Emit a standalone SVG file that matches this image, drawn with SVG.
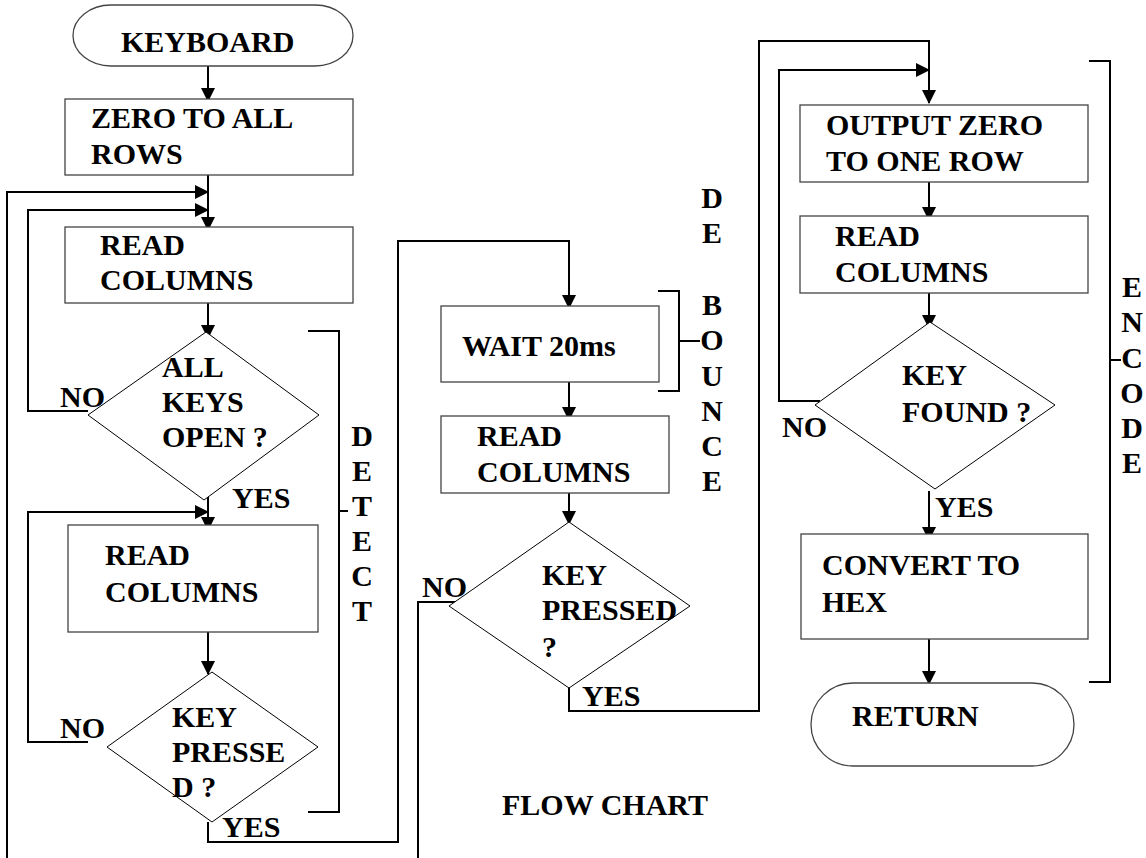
<svg xmlns="http://www.w3.org/2000/svg" width="1146" height="858" viewBox="0 0 1146 858">
<style>
text{font-family:"Liberation Serif","Times New Roman",serif;font-weight:bold;font-size:30px;fill:#000}
.box{fill:#fff;stroke:#444;stroke-width:1.3}
.dia{fill:#fff;stroke:#000;stroke-width:1}
.c{fill:none;stroke:#000;stroke-width:2}
.v{text-anchor:middle}
</style>
<defs>
<marker id="ah" markerUnits="userSpaceOnUse" markerWidth="14" markerHeight="14" viewBox="0 0 14 14" refX="13" refY="7" orient="auto">
<path d="M0,0 L14,7 L0,14 z" fill="#000"/>
</marker>
</defs>
<rect width="1146" height="858" fill="#fff"/>

<g id="connectors">
<path class="c" d="M208 66 V101" marker-end="url(#ah)"/>
<path class="c" d="M208 175 V230" marker-end="url(#ah)"/>
<path class="c" d="M7 858 V192 H208" marker-end="url(#ah)"/>
<path class="c" d="M88 411 H28 V210 H208" marker-end="url(#ah)"/>
<path class="c" d="M208 303 V338" marker-end="url(#ah)"/>
<path class="c" d="M208 492 V530" marker-end="url(#ah)"/>
<path class="c" d="M88 742 H28 V512 H208" marker-end="url(#ah)"/>
<path class="c" d="M208 632 V674" marker-end="url(#ah)"/>
<path class="c" d="M208 822 V842 H398 V241 H569 V308" marker-end="url(#ah)"/>
<path class="c" d="M569 382 V420" marker-end="url(#ah)"/>
<path class="c" d="M569 493 V524" marker-end="url(#ah)"/>
<path class="c" d="M458 602 H418 V858"/>
<path class="c" d="M569 682 V711 H759 V41 H929 V103" marker-end="url(#ah)"/>
<path class="c" d="M929 182 V220" marker-end="url(#ah)"/>
<path class="c" d="M929 293 V328" marker-end="url(#ah)"/>
<path class="c" d="M820 401 H779 V70 H929" marker-end="url(#ah)"/>
<path class="c" d="M929 491 V540" marker-end="url(#ah)"/>
<path class="c" d="M929 639 V684" marker-end="url(#ah)"/>
</g>

<g id="keyboard">
<rect x="73" y="5" width="280" height="61" rx="38" ry="30.5" class="box"/>
<text x="121" y="52">KEYBOARD</text>
</g>
<g id="zero-rows">
<rect x="65" y="99" width="288" height="76" class="box"/>
<text x="91" y="128">ZERO TO ALL</text>
<text x="91" y="164">ROWS</text>
</g>
<g id="read1">
<rect x="65" y="227" width="288" height="76" class="box"/>
<text x="100" y="255">READ</text>
<text x="100" y="290">COLUMNS</text>
</g>
<g id="allkeys">
<polygon points="206,332 319,415 204,500 88,415" class="dia"/>
<text x="162" y="377">ALL</text>
<text x="162" y="412">KEYS</text>
<text x="162" y="447">OPEN ?</text>
<text x="60" y="407">NO</text>
<text x="232" y="508">YES</text>
</g>
<g id="read2">
<rect x="68" y="525" width="250" height="107" class="box"/>
<text x="105" y="565">READ</text>
<text x="105" y="602">COLUMNS</text>
</g>
<g id="keypressed1">
<polygon points="212,672 318,747 212,822 107,747" class="dia"/>
<text x="172" y="727">KEY</text>
<text x="172" y="762">PRESSE</text>
<text x="172" y="797">D ?</text>
<text x="60" y="738">NO</text>
<text x="222" y="837">YES</text>
</g>
<g id="detect">
<path class="c" d="M308 331 H339 V812 H308 M339 511 H348"/>
<text class="v" x="362" y="446">D</text>
<text class="v" x="362" y="481">E</text>
<text class="v" x="362" y="516">T</text>
<text class="v" x="362" y="551">E</text>
<text class="v" x="362" y="586">C</text>
<text class="v" x="362" y="621">T</text>
</g>
<g id="wait">
<rect x="441" y="306" width="218" height="76" class="box"/>
<text x="462" y="356">WAIT 20ms</text>
</g>
<g id="read3">
<rect x="441" y="416" width="228" height="77" class="box"/>
<text x="477" y="446">READ</text>
<text x="477" y="482">COLUMNS</text>
</g>
<g id="keypressed2">
<polygon points="569,522 690,606 569,688 449,606" class="dia"/>
<text x="542" y="585">KEY</text>
<text x="542" y="620">PRESSED</text>
<text x="542" y="657">?</text>
<text x="422" y="597">NO</text>
<text x="582" y="706">YES</text>
</g>
<g id="debounce">
<path class="c" d="M658 291 H679 V391 H658 M679 341 H700"/>
<text class="v" x="712" y="208">D</text>
<text class="v" x="712" y="243">E</text>
<text class="v" x="712" y="315">B</text>
<text class="v" x="712" y="350">O</text>
<text class="v" x="712" y="386">U</text>
<text class="v" x="712" y="421">N</text>
<text class="v" x="712" y="456">C</text>
<text class="v" x="712" y="491">E</text>
</g>
<g id="output-zero">
<rect x="800" y="105" width="288" height="77" class="box"/>
<text x="826" y="135">OUTPUT ZERO</text>
<text x="826" y="171">TO ONE ROW</text>
</g>
<g id="read4">
<rect x="800" y="216" width="288" height="77" class="box"/>
<text x="835" y="246">READ</text>
<text x="835" y="282">COLUMNS</text>
</g>
<g id="keyfound">
<polygon points="930,322 1055,405 935,489 815,405" class="dia"/>
<text x="902" y="385">KEY</text>
<text x="902" y="422">FOUND ?</text>
<text x="782" y="437">NO</text>
<text x="935" y="517">YES</text>
</g>
<g id="convert">
<rect x="801" y="534" width="287" height="105" class="box"/>
<text x="822" y="575">CONVERT TO</text>
<text x="822" y="612">HEX</text>
</g>
<g id="return">
<rect x="811" y="683" width="263" height="83" rx="42" ry="41.5" class="box"/>
<text x="852" y="726">RETURN</text>
</g>
<g id="encode">
<path class="c" d="M1089 61 H1110 V682 H1089 M1110 360 H1121"/>
<text class="v" x="1132" y="297">E</text>
<text class="v" x="1132" y="332">N</text>
<text class="v" x="1132" y="368">C</text>
<text class="v" x="1132" y="403">O</text>
<text class="v" x="1132" y="438">D</text>
<text class="v" x="1132" y="473">E</text>
</g>
<g id="title">
<text x="502" y="815">FLOW CHART</text>
</g>
</svg>
